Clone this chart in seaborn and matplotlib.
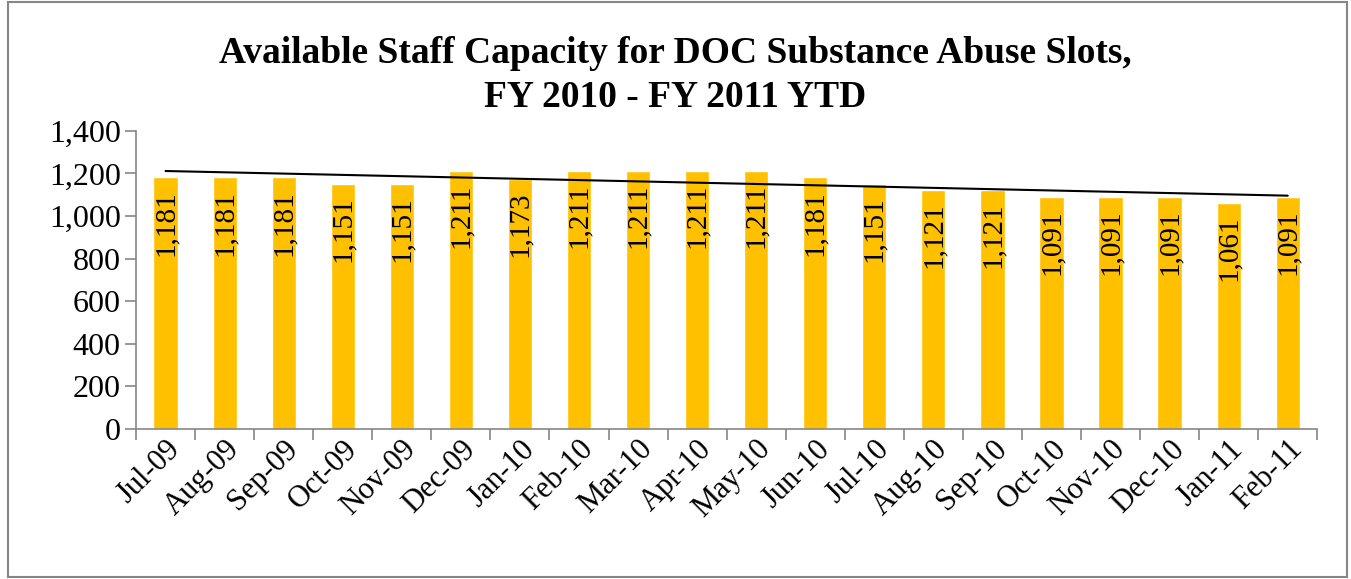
import matplotlib
matplotlib.use("Agg")
import matplotlib.pyplot as plt
import seaborn as sns
import numpy as np
import pandas as pd
from matplotlib.patches import Rectangle

months = ["Jul-09", "Aug-09", "Sep-09", "Oct-09", "Nov-09", "Dec-09", "Jan-10", "Feb-10",
          "Mar-10", "Apr-10", "May-10", "Jun-10", "Jul-10", "Aug-10", "Sep-10", "Oct-10",
          "Nov-10", "Dec-10", "Jan-11", "Feb-11"]
capacity = [1181, 1181, 1181, 1151, 1151, 1211, 1173, 1211, 1211, 1211, 1211, 1181,
            1151, 1121, 1121, 1091, 1091, 1091, 1061, 1091]
yticks = [0, 200, 400, 600, 800, 1000, 1200, 1400]

sns.set_style("white")
plt.rcParams['font.family'] = ['Liberation Serif', 'DejaVu Serif']
plt.rcParams['text.color'] = 'black'
plt.rcParams['xtick.color'] = 'black'
plt.rcParams['ytick.color'] = 'black'

df = pd.DataFrame({"month": months, "capacity": capacity})

fig = plt.figure(figsize=(13.51, 5.79), dpi=100)
ax = fig.add_axes([0.1007, 0.259, 0.8743, 0.515])

sns.barplot(data=df, x="month", y="capacity", color="#FFC000", width=0.41,
            saturation=1, ax=ax)

# linear trendline
x = np.arange(len(capacity))
m, b = np.polyfit(x, capacity, 1)
ax.plot(x, m * x + b, color="black", lw=1.5)

for i, v in enumerate(capacity):
    ax.annotate(f"{v:,}", xy=(i, v), xytext=(0, -9), textcoords="offset points",
                rotation=90, ha="center", va="top", fontsize=21, color="black")

ax.set_xlim(-0.5, len(months) - 0.5)
ax.set_ylim(0, 1400)
ax.set_yticks(yticks)
ax.set_yticklabels([f"{t:,}" for t in yticks], fontsize=23)
ax.set_xticks(np.arange(len(months) + 1) - 0.5, minor=False)
ax.set_xticklabels([""] * (len(months) + 1))
ax.set_xticks(np.arange(len(months)), minor=True)
ax.set_xticklabels(months, minor=True, rotation=45, ha="right", rotation_mode="anchor",
                   fontsize=22)
ax.tick_params(axis="x", which="major", direction="out", length=8, color="#868686",
               width=1.2, bottom=True)
ax.tick_params(axis="x", which="minor", length=0, pad=4, bottom=True)
ax.tick_params(axis="y", direction="out", length=8, color="#868686", labelcolor="black",
               width=1.2, left=True, pad=3)
ax.set_xlabel("")
ax.set_ylabel("")
for s in ["top", "right"]:
    ax.spines[s].set_visible(False)
for s in ["left", "bottom"]:
    ax.spines[s].set_color("#868686")
    ax.spines[s].set_linewidth(1.2)

fig.text(0.5, 0.908, "Available Staff Capacity for DOC Substance Abuse Slots,",
         ha="center", va="center", fontsize=27, fontweight="bold", color="black")
fig.text(0.5, 0.832, "FY 2010 - FY 2011 YTD",
         ha="center", va="center", fontsize=27, fontweight="bold", color="black")

fig.patches.append(Rectangle((0.006, 0.003), 0.991, 0.994, transform=fig.transFigure,
                             fill=False, edgecolor="#868686", lw=1.5))

fig.savefig("out.png", dpi=100)
